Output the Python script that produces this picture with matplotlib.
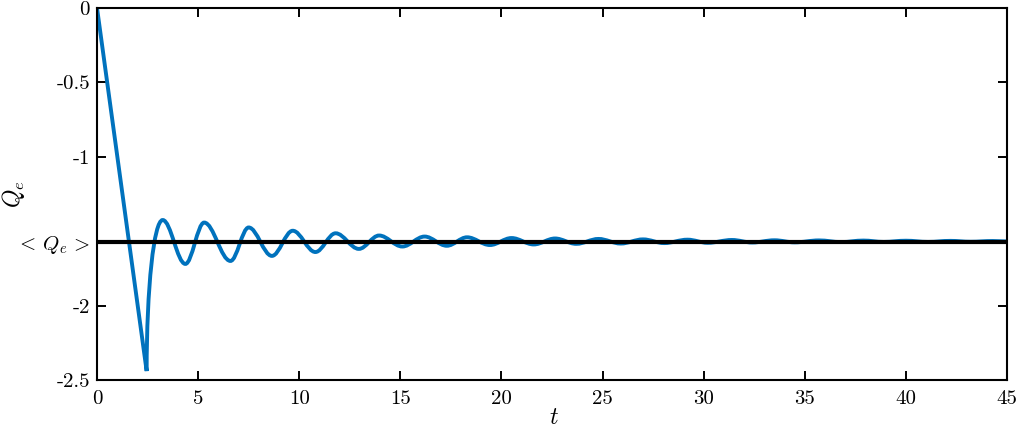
import matplotlib
matplotlib.use('Agg')
import matplotlib.pyplot as plt
from matplotlib.path import Path
from matplotlib.patches import PathPatch

# extrema of Q_e(t) (start, cusp, then peak/trough pairs, end)
t_pts = [0, 2.455,
         3.25, 4.37, 5.3, 6.6, 7.5, 8.65, 9.68, 10.8, 11.8, 12.95, 13.95, 15.1,
         16.2, 17.3, 18.3, 19.43, 20.5, 21.6, 22.65, 23.7, 24.8, 25.9, 27.0, 28.05,
         29.2, 30.2, 31.4, 32.4, 33.5, 34.5, 35.7, 36.8, 37.9, 38.9, 40.0, 41.1,
         42.2, 43.2, 44.3, 45.0]
q_pts = [0, -2.44,
         -1.425, -1.720, -1.442, -1.700, -1.475, -1.666, -1.497, -1.640, -1.514, -1.619,
         -1.529, -1.603, -1.536, -1.598, -1.541, -1.593, -1.546, -1.589, -1.549, -1.585,
         -1.552, -1.583, -1.555, -1.580, -1.557, -1.578, -1.559, -1.576, -1.561, -1.575,
         -1.562, -1.573, -1.563, -1.572, -1.564, -1.572, -1.565, -1.571, -1.566, -1.569]
q_mean = -1.57

x_ticks = [0, 5, 10, 15, 20, 25, 30, 35, 40, 45]
y_ticks = [-2.5, -2, q_mean, -1, -0.5, 0]
y_labels = ['-2.5', '-2', r'$<\,Q_e\,>$', '-1', '-0.5', '0']

plt.rcParams['font.family'] = 'cmr10'
plt.rcParams['mathtext.fontset'] = 'cm'
plt.rcParams['axes.unicode_minus'] = False


def build_path(ts, qs):
    # straight drop to the cusp, then smooth segments with flat tangents at extrema
    verts = [(ts[0], qs[0]), (ts[1], qs[1])]
    codes = [Path.MOVETO, Path.LINETO]
    for i in range(1, len(ts) - 1):
        t0, q0, t1, q1 = ts[i], qs[i], ts[i + 1], qs[i + 1]
        dt = t1 - t0
        if i == 1:
            c1 = (t0, q0 + 0.55 * (q1 - q0))
            c2 = (t0 + 0.45 * dt, q1)
        else:
            c1 = (t0 + 0.36 * dt, q0)
            c2 = (t1 - 0.36 * dt, q1)
        verts += [c1, c2, (t1, q1)]
        codes += [Path.CURVE4] * 3
    return Path(verts, codes)


fig = plt.figure(figsize=(10.19, 4.30), dpi=100)
ax = fig.add_axes([0.0952, 0.1163, 0.893, 0.8651])

line = PathPatch(build_path(t_pts, q_pts), facecolor='none', edgecolor='#0072BD',
                 lw=2.8, transform=ax.transData, zorder=2, joinstyle='miter')
ax.add_patch(line)
ax.axhline(q_mean, color='black', lw=3.0, zorder=3)

ax.set_xlim(0, 45)
ax.set_ylim(-2.5, 0)
ax.set_xticks(x_ticks)
ax.set_xticklabels([str(v) for v in x_ticks])
ax.set_yticks(y_ticks)
ax.set_yticklabels(y_labels)

ax.tick_params(direction='in', length=6.5, width=1.4, top=True, right=True,
               labelsize=15)
ax.tick_params(axis='x', pad=7)
ax.tick_params(axis='y', pad=5)
for s in ax.spines.values():
    s.set_linewidth(1.5)

ax.set_xlabel(r'$t$', fontsize=17)
ax.set_ylabel(r'$Q_e$', fontsize=17)
ax.xaxis.set_label_coords(0.502, -0.072)
ax.yaxis.set_label_coords(-0.077, 0.5)

fig.savefig('out.png', dpi=100)
